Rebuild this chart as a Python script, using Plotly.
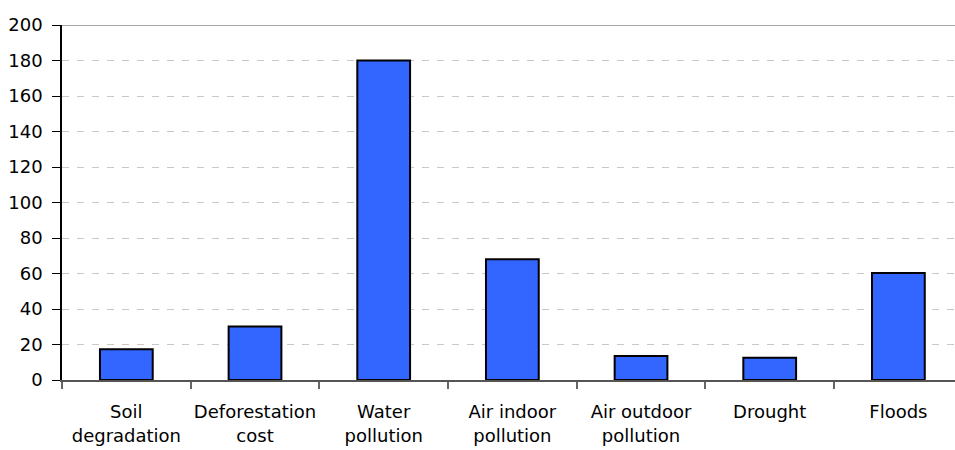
import plotly.graph_objects as go

categories = ["Soil<br>degradation", "Deforestation<br>cost", "Water<br>pollution",
              "Air indoor<br>pollution", "Air outdoor<br>pollution", "Drought", "Floods"]
values = [17.3, 30.2, 180.0, 68.0, 13.5, 12.6, 60.3]
y_ticks = [0, 20, 40, 60, 80, 100, 120, 140, 160, 180, 200]

FONT = "DejaVu Sans"

fig = go.Figure()
fig.add_trace(go.Bar(
    x=categories,
    y=values,
    width=0.41,
    marker=dict(color="#3366FF", line=dict(color="#000000", width=2)),
    hoverinfo="skip",
))

fig.update_layout(
    width=955, height=450,
    margin=dict(l=62, r=0, t=25, b=70),
    paper_bgcolor="white", plot_bgcolor="white",
    showlegend=False,
    font=dict(family=FONT, size=18, color="#000000"),
    xaxis=dict(
        type="category",
        range=[-0.5, 6.44],
        tickson="boundaries",
        tickangle=0,
        automargin=False,
        ticks="outside", ticklen=7, tickcolor="#666666", tickwidth=1.5,
        showline=True, linecolor="#555555", linewidth=1.5,
        showgrid=False, zeroline=False,
        tickfont=dict(family=FONT, size=18),
        ticklabelstandoff=15,
    ),
    yaxis=dict(
        range=[0, 200],
        automargin=False,
        tickmode="array", tickvals=y_ticks,
        ticks="outside", ticklen=8, tickcolor="#000000", tickwidth=1,
        showline=True, linecolor="#000000", linewidth=1.5,
        showgrid=True, gridcolor="#C8C8C8", griddash="7px,8px", gridwidth=1,
        zeroline=False,
        tickfont=dict(family=FONT, size=18),
        ticklabelstandoff=6,
    ),
    shapes=[dict(type="line", xref="paper", yref="y", x0=0, x1=1, y0=200, y1=200,
                 line=dict(color="#888888", width=1.5), layer="above")],
)

fig.write_html("out.html")
